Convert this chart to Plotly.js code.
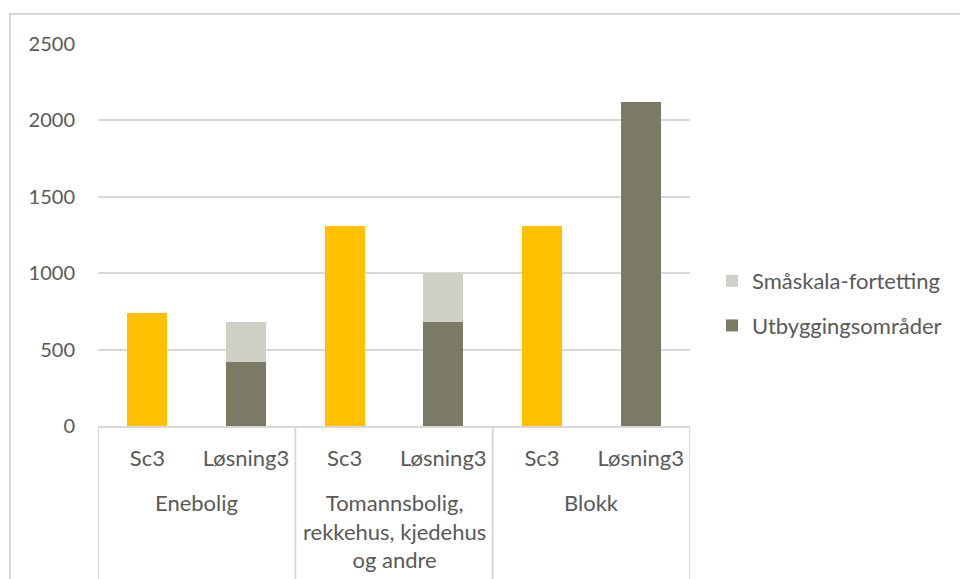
<!DOCTYPE html>
<html>
<head>
<meta charset="utf-8">
<script src="https://cdn.plot.ly/plotly-3.0.1.min.js"></script>
<style>html,body{margin:0;padding:0;background:#fff;}#chart{width:960px;height:579px;}</style>
</head>
<body>
<div id="chart"></div>
<script>
// Data
const groupNames = ['Enebolig', 'Tomannsbolig,<br>rekkehus, kjedehus<br>og andre', 'Blokk'];
const subLabels = ['Sc3', 'Løsning3', 'Sc3', 'Løsning3', 'Sc3', 'Løsning3'];
const sc3Values = [740, null, 1310, null, 1310, null];
const utbyggingValues = [null, 418, null, 680, null, 2118];
const smaskalaValues = [null, 265, null, 321, null, null];
const yTicks = [0, 500, 1000, 1500, 2000, 2500];

// unique category keys (group index + sub label)
const cats = subLabels.map((s, i) => 'g' + Math.floor(i / 2) + ' ' + s);

const W = 960, H = 579;
const m = {l: 98, r: 270, t: 44, b: 153};
const pw = W - m.l - m.r, ph = H - m.t - m.b;
const px = v => (v - m.l) / pw;
const py = v => (H - m.b - v) / ph;

const fontFam = 'Lato, "Open Sans", sans-serif';
const txt = '#595959';
const lineCol = '#D9D9D9';

const traces = [
  {type:'bar', x:cats, y:sc3Values, marker:{color:'#FFC000'}, name:'Sc3', showlegend:false, hoverinfo:'skip'},
  {type:'bar', x:cats, y:utbyggingValues, marker:{color:'#7B7A67'}, name:'Utbyggingsområder', legendgroup:'a', legendrank:2},
  {type:'bar', x:cats, y:smaskalaValues, marker:{color:'#D0D0C6'}, name:'Småskala-fortetting', legendgroup:'b', legendrank:1}
];

const shapes = [
  {type:'rect', xref:'paper', yref:'paper', x0:px(10), x1:px(970), y0:py(590), y1:py(14), line:{color:lineCol, width:2}, fillcolor:'rgba(0,0,0,0)', layer:'below'}
];
for (let g = 0; g <= groupNames.length; g++) {
  shapes.push({type:'line', xref:'x', yref:'paper', x0:g*2-0.5, x1:g*2-0.5, y0:0, y1:py(590), line:{color:lineCol, width:2}});
}
const annotations = groupNames.map((name, g) => ({
  xref:'x', yref:'paper', x:g*2+0.5, y:py(487), xanchor:'center', yanchor:'top',
  text:name, showarrow:false, align:'center',
  font:{family:fontFam, size:22, color:txt}
}));

const layout = {
  width: W, height: H,
  margin: m,
  paper_bgcolor: '#fff', plot_bgcolor: '#fff',
  barmode: 'stack',
  bargap: 0.595,
  font: {family: fontFam, size: 22, color: txt},
  xaxis: {
    type: 'category', categoryarray: cats, categoryorder: 'array',
    tickvals: cats, ticktext: subLabels,
    range: [-0.5, cats.length - 0.5],
    showline: true, linecolor: lineCol, linewidth: 2,
    showgrid: false, zeroline: false,
    ticks: 'outside', ticklen: 12, tickcolor: 'rgba(0,0,0,0)',
    tickfont: {family: fontFam, size: 22, color: txt}
  },
  yaxis: {
    range: [0, 2500], tickvals: yTicks, ticktext: yTicks.map(String),
    showgrid: true, gridcolor: lineCol, gridwidth: 2,
    zeroline: false, showline: false,
    ticks: 'outside', ticklen: 18, tickcolor: 'rgba(0,0,0,0)',
    tickfont: {family: fontFam, size: 20, color: txt}
  },
  legend: {
    x: px(712), y: py(260), xanchor: 'left', yanchor: 'top',
    traceorder: 'grouped', tracegroupgap: 13,
    font: {family: fontFam, size: 22, color: txt},
    bgcolor: 'rgba(0,0,0,0)'
  },
  shapes: shapes,
  annotations: annotations
};

Plotly.newPlot('chart', traces, layout, {staticPlot: true, displayModeBar: false});
</script>
</body>
</html>
